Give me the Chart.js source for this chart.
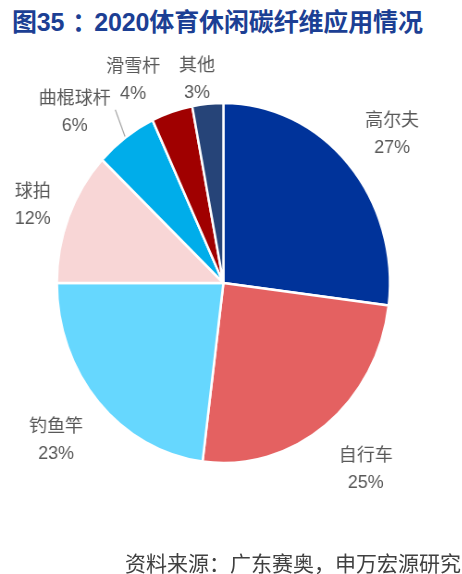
<!DOCTYPE html>
<html>
<head>
<meta charset="utf-8">
<script src="https://cdn.jsdelivr.net/npm/chart.js@4"></script>
<style>
  html, body { margin: 0; padding: 0; background: #fff; overflow: hidden; }
  body { width: 462px; height: 574px; position: relative; font-family: "Liberation Sans", "Noto Sans CJK SC", sans-serif; }
  #title { position: absolute; left: 12px; top: 2px; font-size: 25px; font-weight: bold; color: #1C3F94; white-space: nowrap; letter-spacing: -0.15px; }
  #title .colon { display: inline-block; width: 30px; padding-left: 8px; box-sizing: border-box; text-align: left; overflow: hidden; vertical-align: top; }
  #source { position: absolute; right: 1px; top: 547px; font-size: 21px; color: #404040; white-space: nowrap; }
  /* pie in the picture is a bit narrower than tall */
  #wrap { position: absolute; left: 0; top: 0; width: 500px; height: 574px; transform: scaleX(0.925); transform-origin: 0 0; }
</style>
</head>
<body>
<div id="title">图35<span class="colon">：</span>2020体育休闲碳纤维应用情况</div>
<div id="wrap"><canvas id="pie"></canvas></div>
<div id="source">资料来源：广东赛奥，申万宏源研究</div>
<script>
const categories = ['高尔夫', '自行车', '钓鱼竿', '球拍', '曲棍球杆', '滑雪杆', '其他'];
const shares = [27, 25, 23, 12, 6, 4, 3];
const sliceColors = ['#00339A', '#E46161', '#66D7FE', '#F8D6D6', '#00ADEA', '#A00000', '#264478'];

// label placement: distance from centre and angle nudge (deg)
const labelDist = [235, 242, 240, 220, 234, 225, 205];
const labelNudge = [2.3, -1.7, 0.3, -1.1, -7.4, -7.7, -2.6];
const SX = 0.925;

const outsideLabels = {
    id: 'outsideLabels',
    afterDatasetsDraw(chart) {
        const ctx = chart.ctx;
        const meta = chart.getDatasetMeta(0);
        meta.data.forEach(function (arc, i) {
            const p = arc.getProps(['x', 'y', 'startAngle', 'endAngle', 'outerRadius'], true);
            const mid = (p.startAngle + p.endAngle) / 2;
            if (categories[i] === '曲棍球杆') {
                ctx.save();
                ctx.strokeStyle = '#A6A6A6';
                ctx.lineWidth = 1.2;
                const a = mid + 2 * Math.PI / 180;
                ctx.beginPath();
                ctx.moveTo(p.x + Math.cos(mid) * (p.outerRadius + 1), p.y + Math.sin(mid) * (p.outerRadius + 1));
                ctx.lineTo(p.x + Math.cos(a) * (p.outerRadius + 29), p.y + Math.sin(a) * (p.outerRadius + 29));
                ctx.stroke();
                ctx.restore();
            }
            const ang = mid + labelNudge[i] * Math.PI / 180;
            const lx = p.x + Math.cos(ang) * labelDist[i];
            const ly = p.y + Math.sin(ang) * labelDist[i];
            ctx.save();
            ctx.translate(lx, ly);
            ctx.scale(1 / SX, 1);
            ctx.fillStyle = '#595959';
            ctx.font = '18px "Liberation Sans", "Noto Sans CJK SC", sans-serif';
            ctx.textAlign = 'center';
            ctx.textBaseline = 'middle';
            ctx.fillText(categories[i], 0, -13.5);
            ctx.fillText(shares[i] + '%', 0, 13.5);
            ctx.restore();
        });
    }
};

new Chart(document.getElementById('pie').getContext('2d'), {
    type: 'pie',
    data: {
        labels: categories,
        datasets: [{
            data: shares,
            backgroundColor: sliceColors,
            borderColor: '#ffffff',
            borderWidth: 2.5
        }]
    },
    options: {
        responsive: true,
        maintainAspectRatio: false,
        animation: false,
        radius: 180,
        layout: { padding: { left: 0, right: 17, top: 0, bottom: 8 } },
        plugins: {
            legend: { display: false },
            tooltip: { enabled: false }
        }
    },
    plugins: [outsideLabels]
});
</script>
</body>
</html>
